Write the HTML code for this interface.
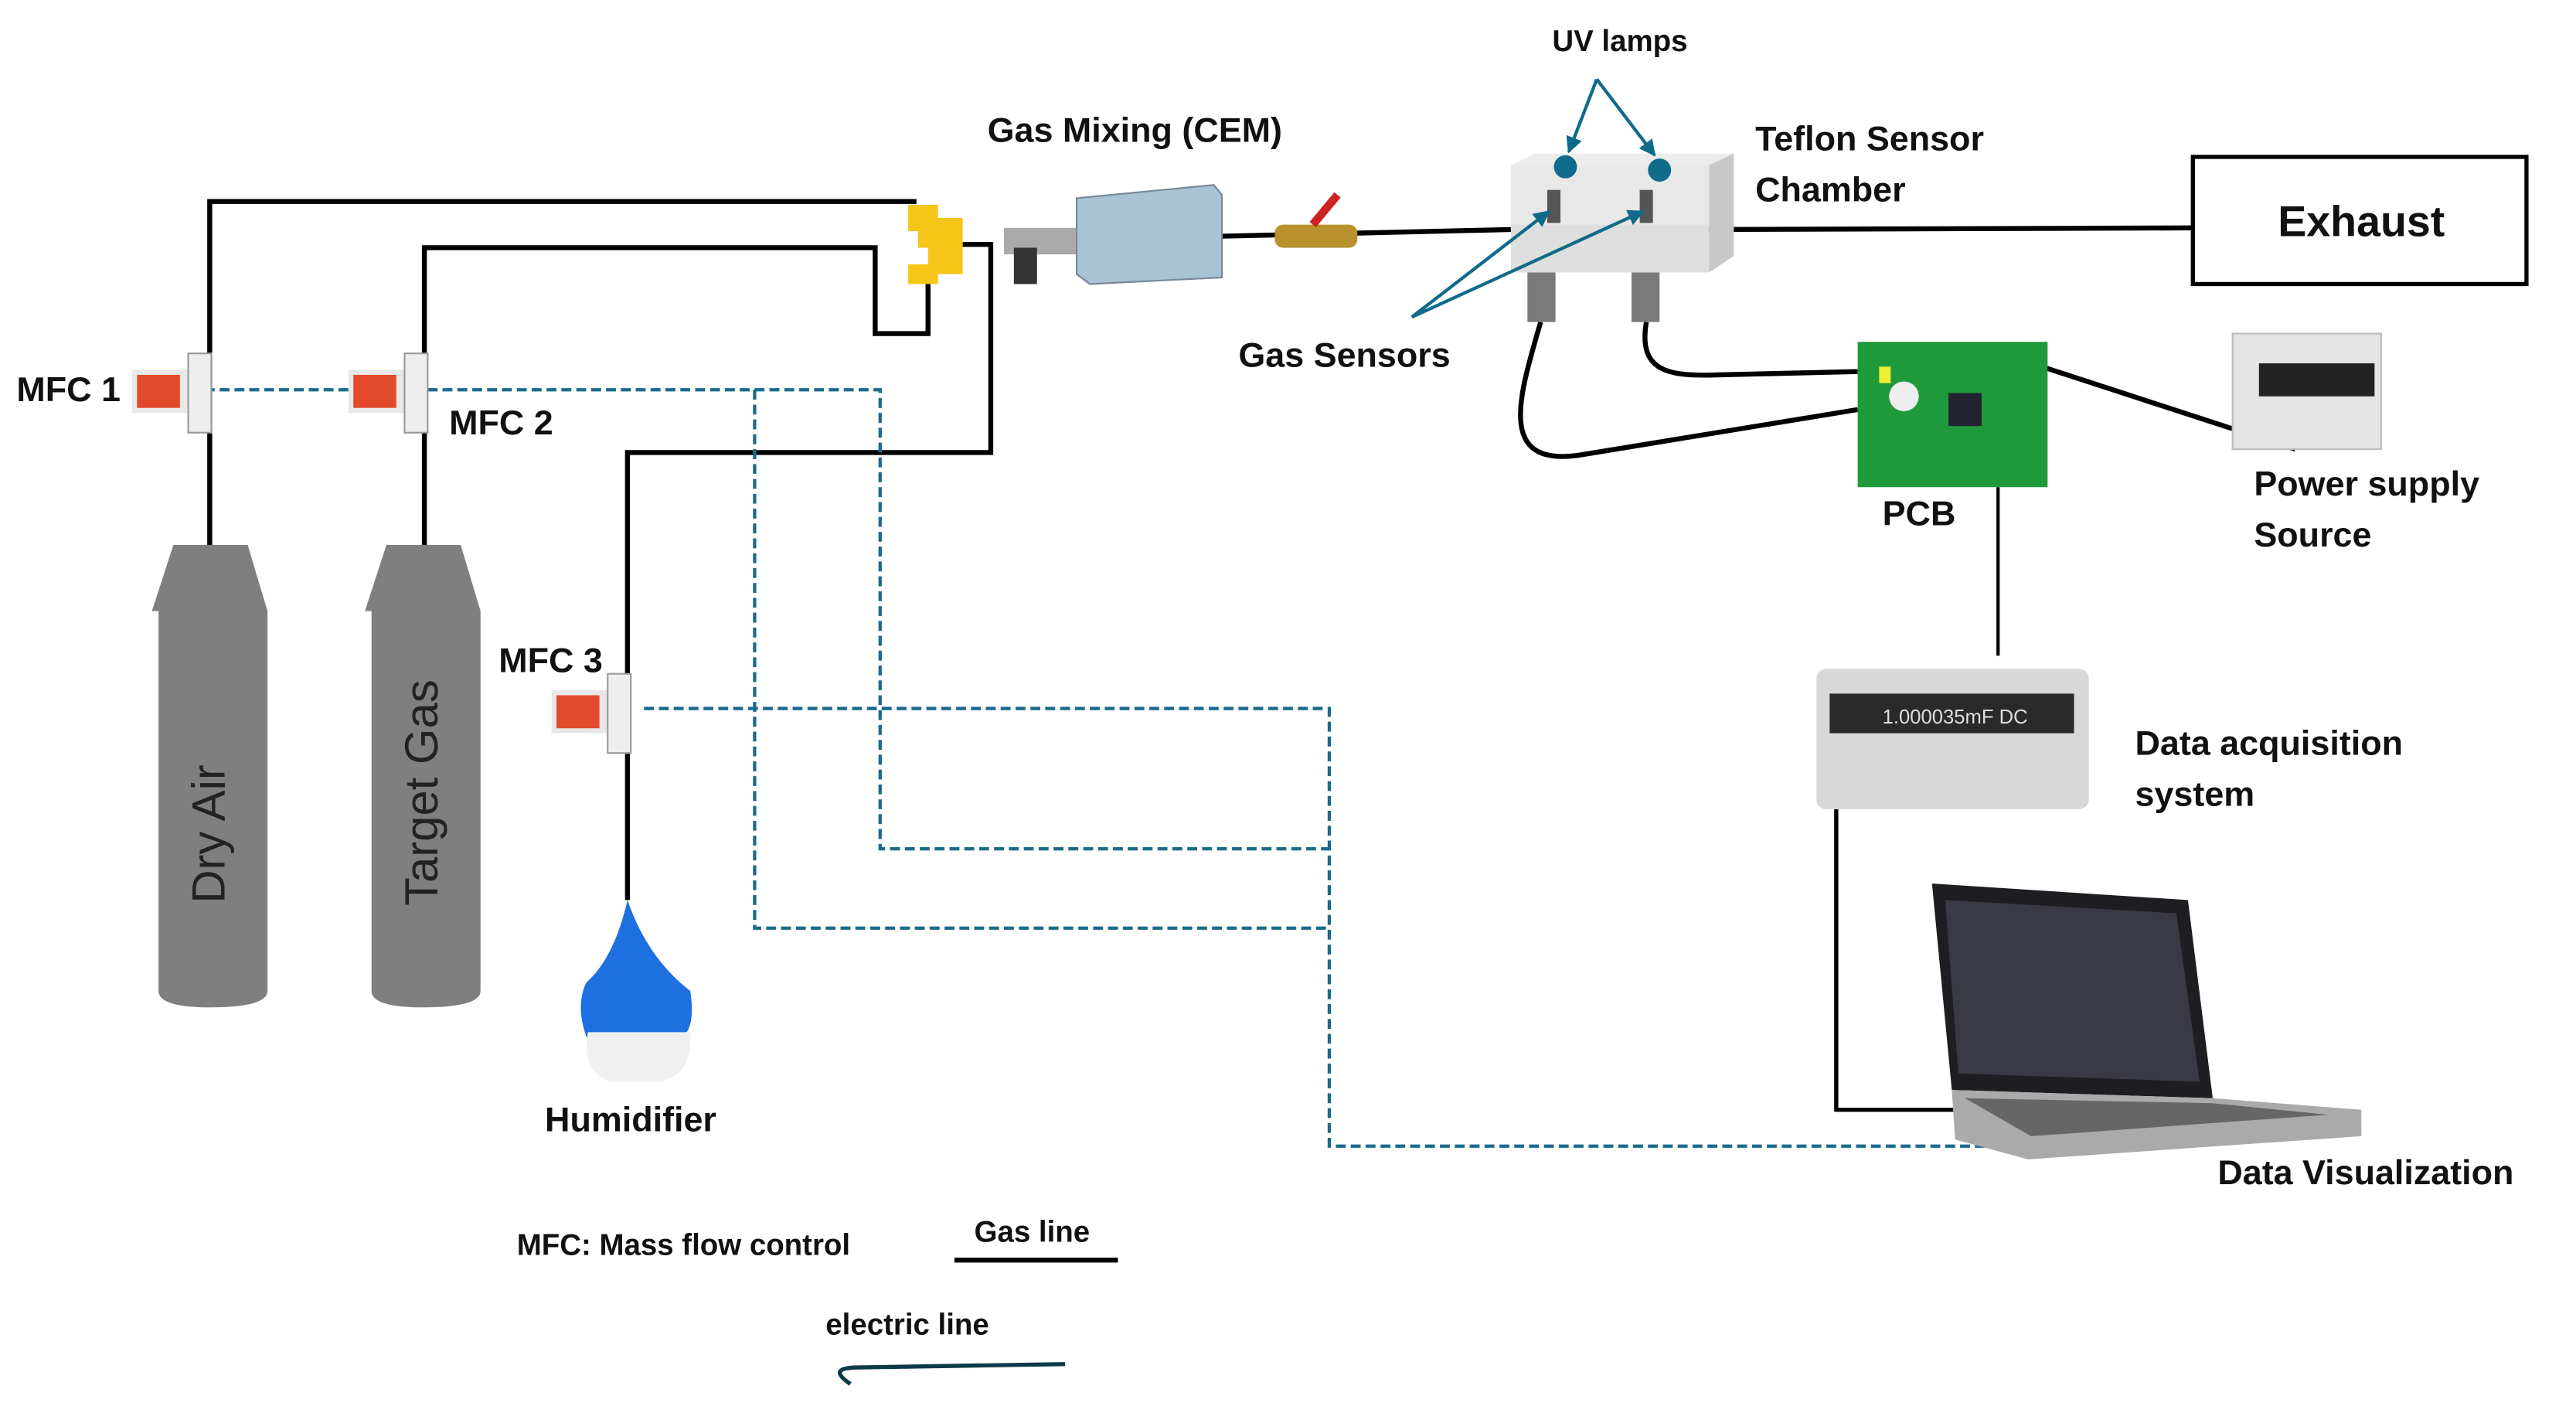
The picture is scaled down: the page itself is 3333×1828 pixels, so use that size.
<!DOCTYPE html>
<html><head><meta charset="utf-8"><style>
html,body{margin:0;padding:0;background:#fff}
svg{display:block}
text{font-family:"Liberation Sans",sans-serif;font-weight:bold;fill:#111}
</style></head><body>
<svg width="3333" height="1828" viewBox="0 0 1560 855.6" preserveAspectRatio="none" xmlns="http://www.w3.org/2000/svg">
<defs>
<marker id="ah" viewBox="0 0 10 10" refX="9" refY="5" markerWidth="5" markerHeight="5" orient="auto"><path d="M0,0 L10,5 L0,10 Z" fill="#106a8a"/></marker>
</defs>
<rect width="1560" height="856" fill="#fff"/>
<!-- gas lines -->
<g fill="none" stroke="#000" stroke-width="3">
<polyline points="127,330 127,122 555,122"/>
<polyline points="257,340 257,150 530,150 530,202 562,202 562,172"/>
<polyline points="380,545 380,274 600,274 600,148 583,148"/>
<line x1="740" y1="143" x2="915" y2="139"/>
<line x1="1030" y1="139" x2="1328" y2="138"/>
<path d="M997,195 C992,225 1010,228 1040,227 L1125,225"/>
<path d="M933,195 C920,240 905,285 960,275 C1020,265 1080,255 1125,248"/>
<line x1="1215" y1="215" x2="1390" y2="272"/>
<line x1="1210" y1="295" x2="1210" y2="397" stroke-width="2"/>
<polyline points="1112,490 1112,672 1187,672" stroke-width="2.5"/>
</g>
<!-- dashed electric lines -->
<g fill="none" stroke="#1b6a8c" stroke-width="2" stroke-dasharray="6,3">
<polyline points="115,236 533,236 533,514 805,514"/>
<polyline points="457,236 457,562 805,562"/>
<polyline points="390,429 805,429 805,694 1222,694"/>
</g>
<!-- cylinders -->
<g fill="#7f7f7f">
<path d="M105,330 H150 L162,370 V600 Q162,610 127,610 Q96,610 96,600 V370 H92 Z"/>
<path d="M234,330 H279 L291,370 V600 Q291,610 256,610 Q225,610 225,600 V370 H221 Z"/>
</g>
<text transform="translate(136,505) rotate(-90)" text-anchor="middle" font-size="28" style="font-weight:normal;fill:#222">Dry Air</text>
<text transform="translate(265,480) rotate(-90)" text-anchor="middle" font-size="28" style="font-weight:normal;fill:#222">Target Gas</text>
<!-- MFC devices -->
<g>
<rect x="80" y="224" width="34" height="26" fill="#e8e8e8"/><rect x="83" y="227" width="26" height="20" fill="#e24a2a"/>
<rect x="114" y="214" width="14" height="48" fill="#eee" stroke="#999"/>
<rect x="211" y="224" width="34" height="26" fill="#e8e8e8"/><rect x="214" y="227" width="26" height="20" fill="#e24a2a"/>
<rect x="245" y="214" width="14" height="48" fill="#eee" stroke="#999"/>
<rect x="334" y="418" width="34" height="26" fill="#e8e8e8"/><rect x="337" y="421" width="26" height="20" fill="#e24a2a"/>
<rect x="368" y="408" width="14" height="48" fill="#eee" stroke="#999"/>
</g>
<!-- yellow connector -->
<path d="M550,124 H568 V132 H583 V166 H568 V172 H550 V160 H562 V150 H556 V140 H550 Z" fill="#f5c518"/>
<!-- CEM -->
<rect x="608" y="138" width="46" height="16" fill="#aaa"/>
<rect x="614" y="150" width="14" height="22" fill="#333"/>
<polygon points="652,120 735,112 740,118 740,168 660,172 652,166" fill="#a8c4d4" stroke="#789"/>
<!-- valve -->
<rect x="772" y="136" width="50" height="14" rx="5" fill="#b8902c"/>
<line x1="795" y1="136" x2="810" y2="118" stroke="#c22" stroke-width="5"/>
<!-- chamber -->
<polygon points="915,100 930,93 1050,93 1035,100" fill="#ececec"/>
<polygon points="1035,100 1050,93 1050,155 1035,165" fill="#c8c8c8"/>
<rect x="915" y="100" width="120" height="65" fill="#dedede"/>
<rect x="915" y="100" width="120" height="36" fill="#e8e8e8"/>
<rect x="937" y="115" width="8" height="20" fill="#555"/><rect x="993" y="115" width="8" height="20" fill="#555"/>
<rect x="925" y="165" width="17" height="30" fill="#7a7a7a"/><rect x="988" y="165" width="17" height="30" fill="#7a7a7a"/>
<circle cx="948" cy="101" r="7" fill="#106a8a"/><circle cx="1005" cy="103" r="7" fill="#106a8a"/>
<g stroke="#106a8a" stroke-width="2" fill="none" marker-end="url(#ah)">
<line x1="967" y1="48" x2="950" y2="92"/><line x1="967" y1="48" x2="1002" y2="94"/>
<line x1="855" y1="192" x2="938" y2="128"/><line x1="855" y1="192" x2="995" y2="128"/>
</g>
<!-- exhaust -->
<rect x="1328" y="95" width="202" height="77" fill="#fff" stroke="#000" stroke-width="2.5"/>
<text x="1430" y="143" text-anchor="middle" font-size="26">Exhaust</text>
<!-- PCB -->
<rect x="1125" y="207" width="115" height="88" fill="#1f9a3a"/>
<circle cx="1153" cy="240" r="9" fill="#eee"/>
<rect x="1138" y="222" width="7" height="10" fill="#ee3"/>
<rect x="1180" y="238" width="20" height="20" fill="#223"/>
<!-- power supply -->
<rect x="1352" y="202" width="90" height="70" fill="#e4e4e4" stroke="#bbb"/>
<rect x="1368" y="220" width="70" height="20" fill="#222"/>
<!-- DAQ -->
<rect x="1100" y="405" width="165" height="85" rx="6" fill="#d8d8d8"/>
<rect x="1108" y="420" width="148" height="24" fill="#2a2a2a"/>
<text x="1140" y="438" font-size="12" style="fill:#ddd;font-weight:normal">1.000035mF DC</text>
<!-- laptop -->
<polygon points="1170,535 1325,545 1340,665 1182,660" fill="#1e1e22"/>
<polygon points="1178,545 1318,553 1332,655 1186,650" fill="#3a3a44"/>
<polygon points="1182,660 1340,665 1430,672 1430,688 1228,702 1184,690" fill="#aaa"/>
<polygon points="1190,665 1340,668 1410,675 1230,688" fill="#666"/>
<!-- humidifier -->
<path d="M380,545 Q392,580 418,600 Q422,625 410,630 L356,630 Q348,610 355,595 Q372,580 380,545 Z" fill="#1e6fe0"/>
<path d="M356,625 H418 Q420,650 400,655 H370 Q352,650 356,625 Z" fill="#f0f0f0"/>
<!-- labels -->
<g font-size="21">
<text x="10" y="243">MFC 1</text>
<text x="272" y="263">MFC 2</text>
<text x="302" y="407">MFC 3</text>
<text x="598" y="86">Gas Mixing (CEM)</text>
<text x="940" y="31" font-size="18">UV lamps</text>
<text x="1063" y="91">Teflon Sensor</text>
<text x="1063" y="122">Chamber</text>
<text x="750" y="222">Gas Sensors</text>
<text x="1140" y="318">PCB</text>
<text x="1365" y="300">Power supply</text>
<text x="1365" y="331">Source</text>
<text x="1293" y="457">Data acquisition</text>
<text x="1293" y="488">system</text>
<text x="330" y="685">Humidifier</text>
<text x="1343" y="717">Data Visualization</text>
<text x="313" y="760" font-size="18">MFC: Mass flow control</text>
<text x="590" y="752" font-size="18">Gas line</text>
<text x="500" y="808" font-size="18">electric line</text>
</g>
<line x1="578" y1="763" x2="677" y2="763" stroke="#000" stroke-width="3"/>
<path d="M515,838 Q500,828 520,828 L645,826" fill="none" stroke="#0d3a4a" stroke-width="2.5"/>
</svg>
</body></html>
